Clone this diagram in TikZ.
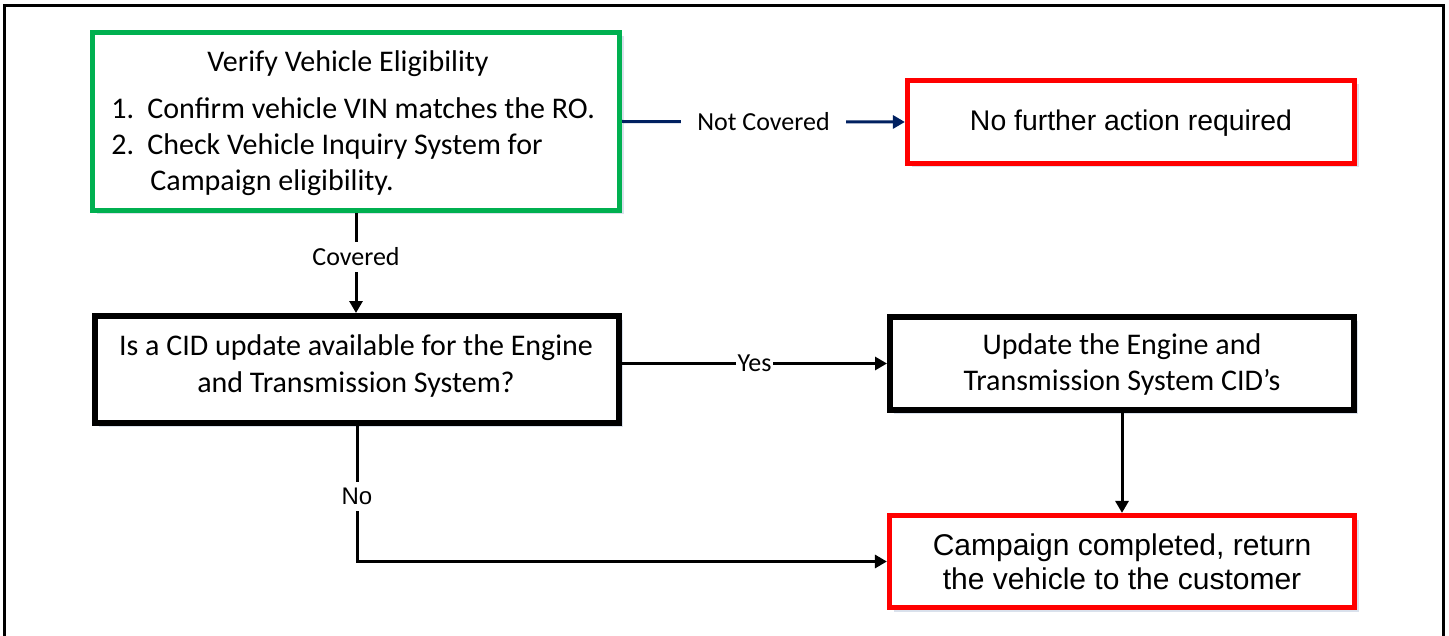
\documentclass[tikz,border=0pt]{standalone}
\usepackage{fontspec}
\setmainfont{Carlito}
\newfontfamily\arialf{Liberation Sans}
\usetikzlibrary{arrows.meta,shadows}
\definecolor{boxgreen}{RGB}{0,176,80}
\definecolor{boxred}{RGB}{255,0,0}
\definecolor{navy}{RGB}{0,32,96}
\definecolor{shade}{RGB}{150,170,200}
\begin{document}
\begin{tikzpicture}[x=0.5pt,y=-0.5pt,
  shadowed/.style={drop shadow={shadow xshift=2pt,shadow yshift=-2pt,fill=shade,opacity=0.35}},
  box/.style={draw,rectangle,inner sep=0pt,fill=white,shadowed},
  greenbox/.style={box,draw=boxgreen,line width=2.6pt},
  redbox/.style={box,draw=boxred,line width=2.6pt},
  blackbox/.style={box,draw=black,line width=3pt},
  txt/.style={inner sep=0pt,font=\fontsize{15}{18}\selectfont},
  atxt/.style={inner sep=0pt,font=\arialf\fontsize{15}{17}\selectfont},
  conn/.style={line width=1.5pt,-{Triangle[length=6pt,width=6.5pt]}},
  lab/.style={fill=white,inner ysep=3pt,inner xsep=2pt,font=\fontsize{13}{15}\selectfont},
]
\useasboundingbox (0,0) rectangle (1449,636);
% outer frame
\draw[line width=1.5pt] (4,640) -- (4,6) -- (1443,6) -- (1443,640);

% boxes
\node[greenbox,minimum width=263.5pt,minimum height=89pt] (verify) at (356,121.5) {};
\node[redbox,minimum width=223.5pt,minimum height=41.5pt] (nofurther) at (1131,122) {};
\node[blackbox,minimum width=262pt,minimum height=53.5pt] (cid) at (357,369.5) {};
\node[blackbox,minimum width=232pt,minimum height=46.5pt] (update) at (1122,363.5) {};
\node[redbox,minimum width=232.5pt,minimum height=46pt] (done) at (1122,561.5) {};

% texts
\node[txt,anchor=base] (vtitle) at (348,72) {Verify Vehicle Eligibility};
\node[txt,anchor=base west] (vone) at (111,119) {\makebox[18pt][l]{1.}Confirm vehicle VIN matches the RO.};
\node[txt,anchor=base west] (vtwo) at (111,155) {\makebox[18pt][l]{2.}Check Vehicle Inquiry System for};
\node[txt,anchor=base west] (vthree) at (150,191) {Campaign eligibility.};
\node[atxt,font=\arialf\fontsize{14.2}{17}\selectfont] (nftext) at (1131,123) {No further action required};
\node[txt,align=center] (cidtext) at (356,366) {Is a CID update available for the Engine\\and Transmission System?};
\node[txt,align=center] (updtext) at (1122,364) {Update the Engine and\\Transmission System CID’s};
\node[atxt,align=center] (donetext) at (1122,562) {Campaign completed, return\\the vehicle to the customer};

% connectors
\draw[conn,draw=navy,-{Triangle[length=6pt,width=6.5pt,fill=navy]}] (verify.east) -- (nofurther.west)
  node[lab,midway,inner xsep=8pt] (lnc) {Not Covered};
\draw[conn] (verify.south) -- (verify.south |- cid.north)
  node[lab,pos=0.44] (lcov) {Covered};
\draw[conn] (cid.east |- update.west) -- (update.west)
  node[lab,midway,inner ysep=1pt,inner xsep=1pt] (lyes) {Yes};
\draw[conn] (cid.south) |- (done.west)
  node[lab,pos=0.26,font=\arialf\fontsize{12}{14}\selectfont] (lno) {No};
\draw[conn] (update.south) -- (done.north);
\end{tikzpicture}
\end{document}
